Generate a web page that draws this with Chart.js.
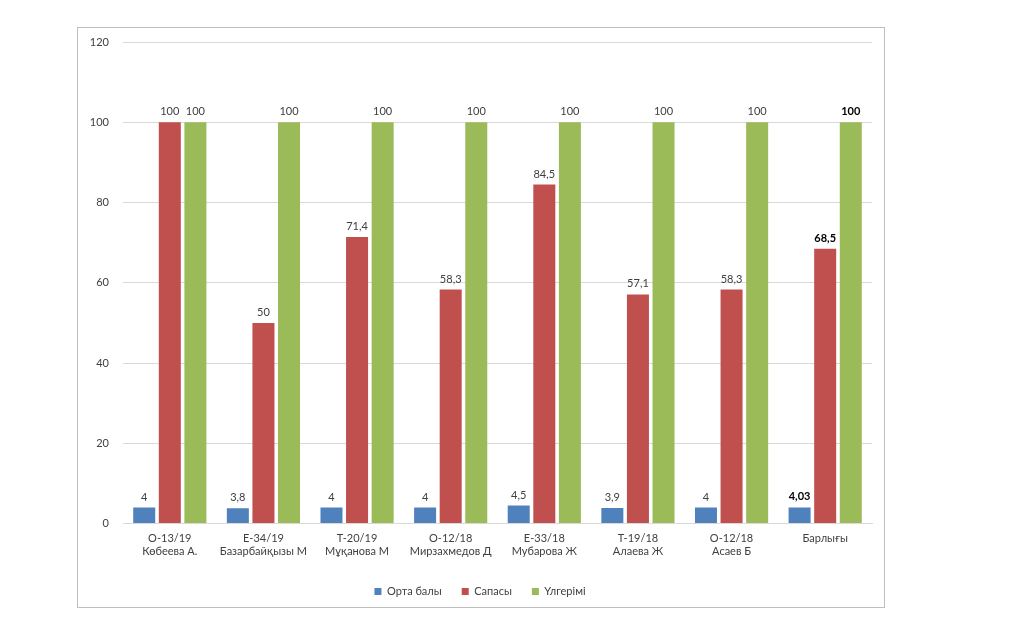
<!DOCTYPE html>
<html>
<head>
<meta charset="utf-8">
<script src="https://cdn.jsdelivr.net/npm/chart.js@4"></script>
<style>
  body { margin: 0; background: #fff; }
  #frame { position: absolute; left: 77px; top: 27px; width: 806px; height: 579px; border: 1px solid #bfbfbf; background: #fff; }
  canvas { display: block; }
</style>
</head>
<body>
<div id="frame"><canvas id="chart" width="806" height="579"></canvas></div>
<script>
const groups = [
  ["О-13/19", "Көбеева А."],
  ["Е-34/19", "Базарбайқызы М"],
  ["Т-20/19", "Мұқанова М"],
  ["О-12/18", "Мирзахмедов Д"],
  ["Е-33/18", "Мубарова Ж"],
  ["Т-19/18", "Алаева Ж"],
  ["О-12/18", "Асаев Б"],
  ["Барлығы"]
];
const ortaBaly = [4, 3.8, 4, 4, 4.5, 3.9, 4, 4.03];
const sapasy = [100, 50, 71.4, 58.3, 84.5, 57.1, 58.3, 68.5];
const ulgerimi = [100, 100, 100, 100, 100, 100, 100, 100];
const yTicks = [0, 20, 40, 60, 80, 100, 120];

const fontFamily = "Lato, 'Open Sans', sans-serif";

// value labels over every bar, the totals column in bold
const barLabels = {
  id: "barLabels",
  afterDatasetsDraw(chart) {
    const ctx = chart.ctx;
    ctx.save();
    ctx.textAlign = "center";
    ctx.textBaseline = "bottom";
    chart.data.datasets.forEach((ds, i) => {
      chart.getDatasetMeta(i).data.forEach((bar, j) => {
        const last = j === ds.data.length - 1;
        ctx.font = (last ? "bold " : "") + "11px " + fontFamily;
        ctx.fillStyle = last ? "#000" : "#404040";
        const txt = String(ds.data[j]).replace(".", ",");
        ctx.fillText(txt, bar.x, bar.y - 5);
      });
    });
    ctx.restore();
  }
};

new Chart(document.getElementById("chart").getContext("2d"), {
  type: "bar",
  data: {
    labels: groups,
    datasets: [
      { label: "Орта балы", data: ortaBaly, backgroundColor: "#4f81bd" },
      { label: "Сапасы", data: sapasy, backgroundColor: "#c0504d" },
      { label: "Үлгерімі", data: ulgerimi, backgroundColor: "#9bbb59" }
    ]
  },
  options: {
    responsive: false,
    animation: false,
    categoryPercentage: 0.82,
    barPercentage: 0.86,
    layout: { padding: { top: 14, right: 12, left: 10, bottom: 0 } },
    plugins: {
      legend: {
        position: "bottom",
        labels: {
          font: { family: fontFamily, size: 11 },
          color: "#404040",
          boxWidth: 7,
          boxHeight: 7,
          padding: 20
        }
      },
      tooltip: { enabled: false }
    },
    scales: {
      x: {
        grid: { display: false, drawTicks: false },
        border: { color: "#d9d9d9" },
        ticks: {
          font: { family: fontFamily, size: 11 },
          color: "#404040",
          padding: 8,
          maxRotation: 0,
          autoSkip: false
        }
      },
      y: {
        min: 0,
        max: 120,
        afterFit(scale) { scale.width = 35; scale.paddingTop = 0; },
        afterBuildTicks(scale) { scale.ticks = yTicks.map(v => ({ value: v })); },
        grid: { color: "#d9d9d9", drawTicks: false },
        border: { display: false },
        ticks: {
          font: { family: fontFamily, size: 11 },
          color: "#404040",
          padding: 14
        }
      }
    }
  },
  plugins: [barLabels]
});
</script>
</body>
</html>
